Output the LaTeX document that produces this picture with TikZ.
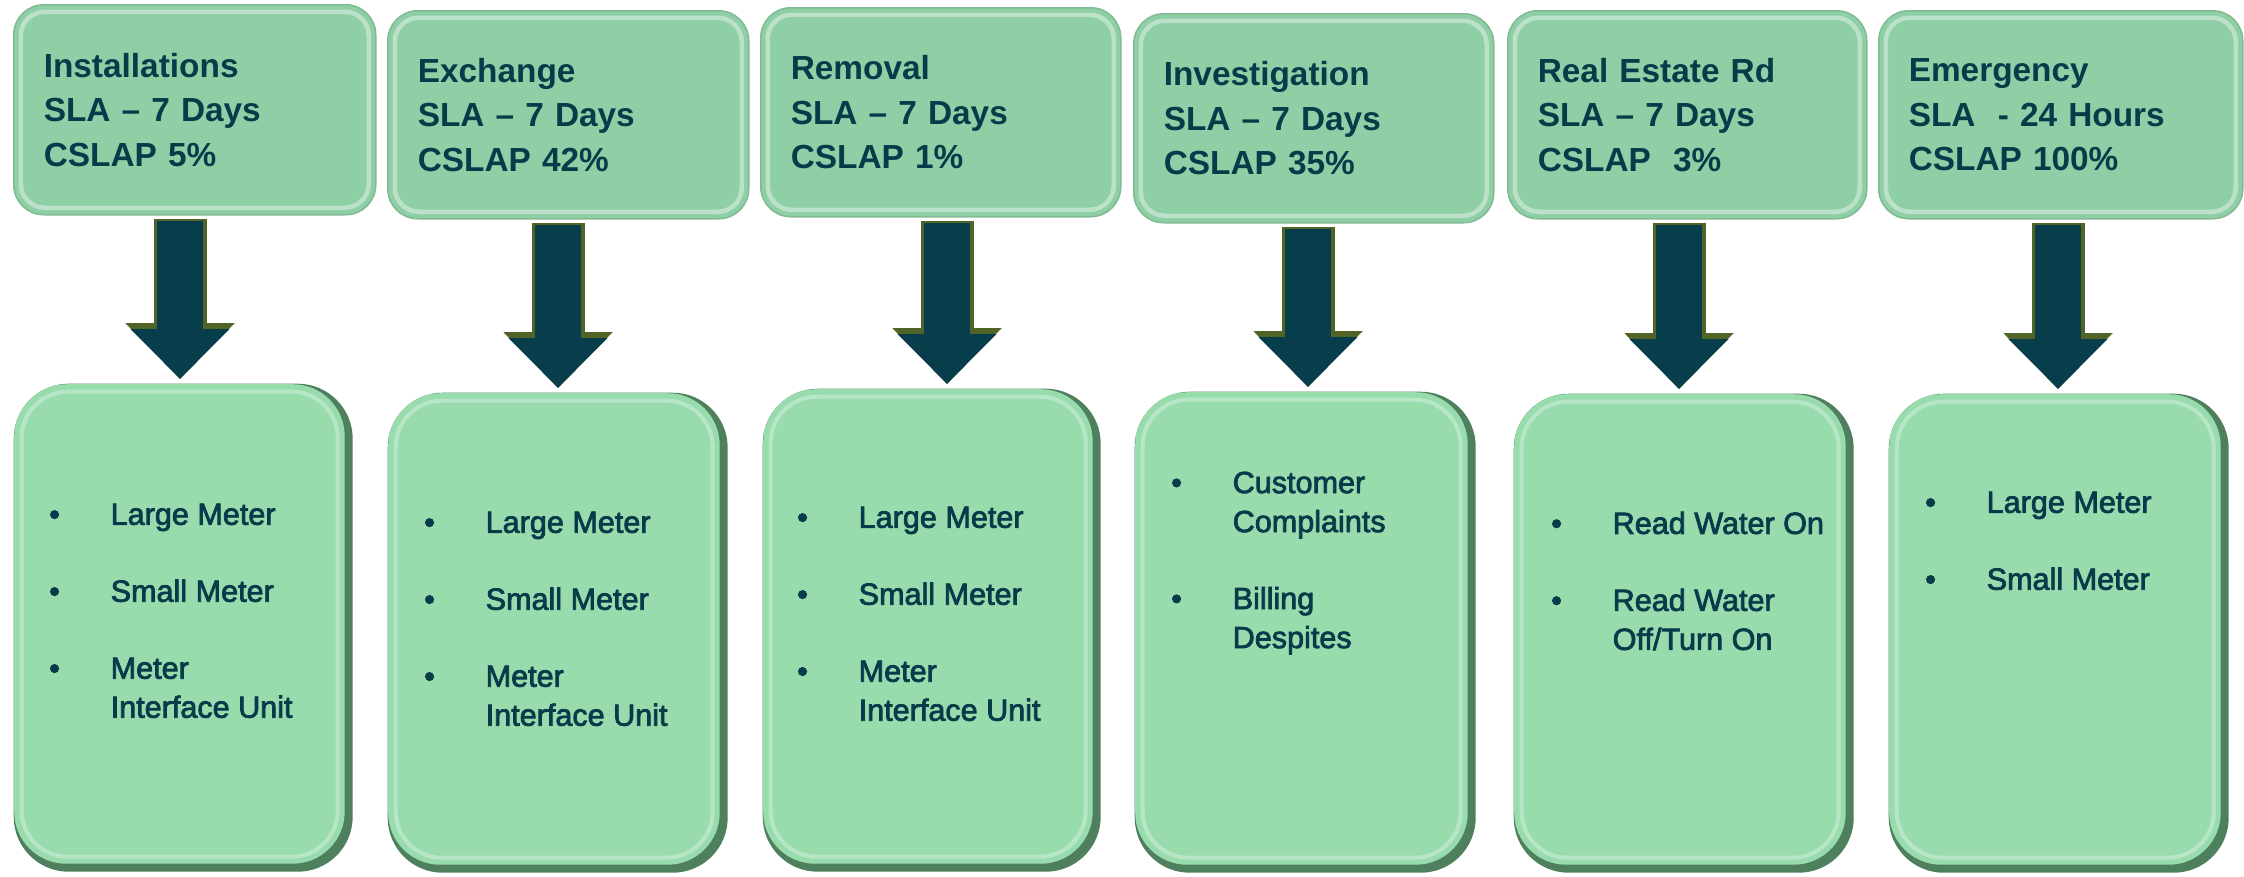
\documentclass[tikz,border=0pt]{standalone}
\usepackage{fontspec}
\setmainfont{Liberation Sans}
\newfontfamily\listfont[FakeBold=2.5]{Liberation Sans}
\usetikzlibrary{arrows.meta,calc}

\definecolor{boxtext}{RGB}{6,60,74}
\definecolor{topgreen}{RGB}{143,207,165}
\definecolor{botgreen}{RGB}{152,220,174}
\definecolor{edgegreen}{RGB}{78,128,94}
\definecolor{arrowfill}{RGB}{8,62,76}
\definecolor{arrowedge}{RGB}{80,100,40}

\newcommand\blt{\makebox[6.15mm][l]{\textbullet}}
\newcommand\ind{\hspace*{6.15mm}}

\tikzset{
  topbox/.style={anchor=north west, rounded corners=3mm, fill=topgreen,
    draw=topgreen!90!black, line width=.15mm, inner xsep=3mm, inner ysep=0pt,
    align=left, text=boxtext, font=\fontsize{9.5}{12.66}\selectfont\bfseries,
    path picture={\draw[white, opacity=.4, line width=.45mm, rounded corners=2.4mm]
      ([shift={(.7mm,-.7mm)}]path picture bounding box.north west) rectangle
      ([shift={(-.7mm,.7mm)}]path picture bounding box.south east);}},
  botbox/.style={anchor=north west, rounded corners=5.5mm, fill=edgegreen,
    inner sep=0pt,
    path picture={\fill[botgreen, rounded corners=5.2mm]
      ([shift={(.05mm,-.05mm)}]path picture bounding box.north west) rectangle
      ([shift={(-.8mm,.8mm)}]path picture bounding box.south east);
      \draw[white, opacity=.3, line width=.4mm, rounded corners=4.6mm]
      ([shift={(.8mm,-.8mm)}]path picture bounding box.north west) rectangle
      ([shift={(-1.5mm,1.5mm)}]path picture bounding box.south east);}},
  listtext/.style={anchor=north west, inner sep=0pt, align=left, text=boxtext,
    font=\listfont\fontsize{8.7}{11.1}\selectfont},
  arrowrim/.style={arrowedge, line width=5.3mm, -{Triangle[length=5.6mm,width=10.6mm]}},
  arrowbody/.style={arrowfill, line width=4.6mm, -{Triangle[length=5mm,width=9.6mm]}}
}

\begin{document}
\begin{tikzpicture}[x=0.1mm, y=-0.1mm]
\useasboundingbox (0,0) rectangle (2244,876);

% top row
\node[topbox, minimum width=36.2mm, text width=30.2mm, minimum height=21mm] (top1) at (13,4)
  {Installations\\SLA -- 7 Days\\CSLAP 5\%};
\node[topbox, minimum width=36.1mm, text width=30.1mm, minimum height=20.8mm] (top2) at (387,10)
  {Exchange\\SLA -- 7 Days\\CSLAP 42\%};
\node[topbox, minimum width=36mm, text width=30mm, minimum height=20.9mm] (top3) at (760,7)
  {Removal\\SLA -- 7 Days\\CSLAP 1\%};
\node[topbox, minimum width=36mm, text width=30mm, minimum height=20.9mm] (top4) at (1133,13)
  {Investigation\\SLA -- 7 Days\\CSLAP 35\%};
\node[topbox, minimum width=35.9mm, text width=29.9mm, minimum height=20.8mm] (top5) at (1507,10)
  {Real Estate Rd\\SLA -- 7 Days\\CSLAP\ \ 3\%};
\node[topbox, minimum width=36.4mm, text width=30.4mm, minimum height=20.8mm] (top6) at (1878,10)
  {Emergency\\SLA\ \ - 24 Hours\\CSLAP 100\%};

% bottom row
\node[botbox, minimum width=33.9mm, minimum height=48.8mm] (bot1) at (13,383) {};
\node[botbox, minimum width=34mm, minimum height=48mm] (bot2) at (387,392) {};
\node[botbox, minimum width=33.8mm, minimum height=48.3mm] (bot3) at (762,388) {};
\node[botbox, minimum width=34.1mm, minimum height=48.1mm] (bot4) at (1134,391) {};
\node[botbox, minimum width=34mm, minimum height=47.9mm] (bot5) at (1513,393) {};
\node[botbox, minimum width=34mm, minimum height=47.9mm] (bot6) at (1888,393) {};

% arrows
\foreach \i/\ax in {1/180,2/558,3/947,4/1308,5/1679,6/2058} {
  \coordinate (ax\i) at (\ax,0);
  \coordinate (as\i) at ($(top\i.south -| ax\i)+(0,3)$);
  \coordinate (ae\i) at ($(bot\i.north -| ax\i)+(0,-4)$);
  \draw[arrowrim] (as\i) -- (ae\i);
  \draw[arrowbody] ($(as\i)+(0,2)$) -- (ae\i);
}

% lists
\node[listtext] (list1) at (48.5,503)
  {\blt Large Meter\\[10.8pt]\blt Small Meter\\[10.8pt]\blt Meter\\\ind Interface Unit};
\node[listtext] (list2) at (423.5,511)
  {\blt Large Meter\\[10.8pt]\blt Small Meter\\[10.8pt]\blt Meter\\\ind Interface Unit};
\node[listtext] (list3) at (796.5,506)
  {\blt Large Meter\\[10.8pt]\blt Small Meter\\[10.8pt]\blt Meter\\\ind Interface Unit};
\node[listtext] (list4) at (1170.5,471)
  {\blt Customer\\\ind Complaints\\[10.8pt]\blt Billing\\\ind Despites};
\node[listtext] (list5) at (1550.5,511)
  {\blt Read Water On\\[10.8pt]\blt Read Water\\\ind Off/Turn On};
\node[listtext] (list6) at (1924.5,491)
  {\blt Large Meter\\[10.8pt]\blt Small Meter};
\end{tikzpicture}
\end{document}
